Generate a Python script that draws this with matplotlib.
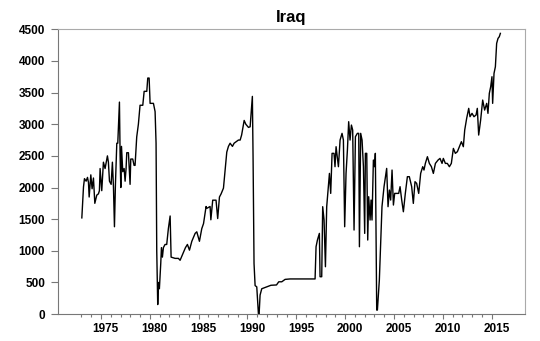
import matplotlib.pyplot as plt
from matplotlib.transforms import ScaledTranslation

# Iraq crude oil production (thousand barrels per day)
years = [
    1973.04, 1973.21, 1973.31, 1973.48, 1973.62, 1973.72, 1973.79, 1973.96,
    1974.09, 1974.23, 1974.37, 1974.57, 1974.74, 1974.84, 1974.91, 1975.08,
    1975.25, 1975.42, 1975.66, 1975.76, 1975.87, 1976.04, 1976.17, 1976.28,
    1976.38, 1976.48, 1976.62, 1976.72, 1976.89, 1976.96, 1977.03, 1977.10,
    1977.23, 1977.37, 1977.47, 1977.57, 1977.64, 1977.81, 1977.98, 1978.05,
    1978.25, 1978.39, 1978.49, 1978.66, 1978.83, 1979.00, 1979.28, 1979.42,
    1979.69, 1979.79, 1979.93, 1980.03, 1980.37, 1980.54, 1980.64, 1980.71,
    1980.81, 1980.88, 1980.98, 1981.12, 1981.19, 1981.29, 1981.39, 1981.56,
    1981.73, 1981.90, 1982.08, 1982.18, 1982.59, 1982.93, 1983.10, 1983.38,
    1983.65, 1983.85, 1984.06, 1984.30, 1984.64, 1984.81, 1985.08, 1985.32,
    1985.50, 1985.76, 1985.83, 1986.17, 1986.25, 1986.44, 1986.78, 1986.95,
    1987.13, 1987.30, 1987.54, 1987.88, 1988.05, 1988.22, 1988.46, 1988.63,
    1989.07, 1989.25, 1989.40, 1989.66, 1989.83, 1990.10, 1990.27, 1990.50,
    1990.57, 1990.67, 1990.78, 1990.95, 1991.12, 1991.19, 1991.29, 1991.46,
    1991.80, 1992.00, 1992.40, 1992.97, 1993.20, 1993.51, 1993.85, 1994.36,
    1996.92, 1997.02, 1997.16, 1997.36, 1997.43, 1997.60, 1997.70, 1997.84,
    1997.98, 1998.11, 1998.39, 1998.52, 1998.66, 1998.86, 1998.96, 1999.07,
    1999.31, 1999.48, 1999.68, 1999.82, 1999.95, 2000.09, 2000.23, 2000.36,
    2000.50, 2000.64, 2000.77, 2000.91, 2001.05, 2001.25, 2001.39, 2001.46,
    2001.59, 2001.73, 2001.87, 2002.00, 2002.07, 2002.21, 2002.31, 2002.41,
    2002.55, 2002.65, 2002.75, 2002.89, 2003.02, 2003.09, 2003.23, 2003.30,
    2003.50, 2003.77, 2003.98, 2004.25, 2004.39, 2004.53, 2004.66, 2004.80,
    2004.94, 2005.07, 2005.48, 2005.62, 2005.79, 2005.96, 2006.16, 2006.37,
    2006.57, 2006.81, 2006.98, 2007.15, 2007.32, 2007.53, 2007.73, 2007.94,
    2008.07, 2008.21, 2008.42, 2008.62, 2008.83, 2009.03, 2009.24, 2009.51,
    2009.71, 2009.92, 2010.05, 2010.26, 2010.46, 2010.67, 2010.87, 2011.08,
    2011.28, 2011.49, 2011.69, 2011.90, 2012.10, 2012.24, 2012.44, 2012.65,
    2012.78, 2012.99, 2013.19, 2013.40, 2013.53, 2013.67, 2013.87, 2014.08,
    2014.28, 2014.49, 2014.62, 2014.76, 2014.90, 2015.03, 2015.10, 2015.24,
    2015.38, 2015.51, 2015.65, 2015.78, 2015.89,
]
production = [
    1520, 2010, 2140, 2100, 2160, 2080, 1850, 2200,
    1980, 2150, 1750, 1880, 1900, 1950, 2300, 1950,
    2400, 2300, 2500, 2400, 2100, 2050, 2400, 2000,
    1380, 2050, 2700, 2700, 3350, 2500, 2000, 2650,
    2250, 2300, 2100, 2300, 2550, 2550, 2050, 2450,
    2450, 2350, 2350, 2800, 3000, 3300, 3300, 3520,
    3520, 3730, 3730, 3330, 3330, 3200, 2700, 1000,
    150, 500, 400, 800, 1050, 900, 1050, 1100,
    1100, 1350, 1550, 900, 880, 880, 850, 950,
    1050, 1100, 1010, 1150, 1275, 1300, 1150, 1350,
    1430, 1700, 1670, 1700, 1490, 1800, 1800, 1510,
    1850, 1900, 1990, 2560, 2650, 2700, 2650, 2700,
    2750, 2750, 2830, 3060, 3000, 2950, 2960, 3440,
    2500, 800, 450, 430, 0, 0, 300, 400,
    420, 430, 455, 460, 510, 510, 548, 555,
    555, 1064, 1170, 1275, 590, 590, 1697, 1486,
    748, 1697, 2223, 1907, 2540, 2540, 2329, 2645,
    2329, 2750, 2856, 2750, 1380, 2223, 2592, 3040,
    2750, 2987, 2908, 1328, 2803, 2856, 2856, 1064,
    2856, 2750, 2329, 1275, 2540, 2540, 1170, 1855,
    1486, 1802, 1486, 2434, 2329, 2540, 63, 63,
    537, 1697, 2013, 2302, 1697, 1960, 1802, 2276,
    1723, 1907, 1907, 2013, 1802, 1617, 1907, 2171,
    2171, 2013, 1749, 2092, 2065, 1907, 2223, 2329,
    2276, 2381, 2487, 2381, 2329, 2223, 2381, 2434,
    2460, 2381, 2460, 2381, 2381, 2329, 2381, 2618,
    2540, 2566, 2645, 2724, 2645, 2908, 3093, 3251,
    3119, 3172, 3119, 3146, 3251, 2829, 3066, 3382,
    3224, 3330, 3172, 3488, 3593, 3751, 3330, 3804,
    3909, 4278, 4357, 4383, 4436,
]

year_ticks = list(range(1973, 2016))
label_years = [1975, 1980, 1985, 1990, 1995, 2000, 2005, 2010, 2015]
value_ticks = list(range(0, 4501, 500))

plt.rcParams['font.family'] = ['Liberation Sans', 'DejaVu Sans']

fig = plt.figure(figsize=(5.4, 3.41), dpi=100)
ax = fig.add_axes([0.1065, 0.079, 0.8655, 0.835])

ax.plot(years, production, color='black', linewidth=1.0)

ax.set_xlim(1970.55, 2018.4)
ax.set_ylim(0, 4500)

ax.set_title('Iraq', fontsize=12, fontweight='bold', pad=5)

ax.set_yticks(value_ticks)
ax.set_yticklabels([str(v) for v in value_ticks], fontsize=8.5, fontweight='bold')
ax.set_xticks(label_years)
ax.set_xticklabels([str(y) for y in label_years], fontsize=8.5, fontweight='bold')
ax.set_xticks([y for y in year_ticks if y not in label_years], minor=True)

ax.tick_params(axis='y', direction='out', length=5, width=0.8, color='#777777', pad=4)
ax.tick_params(axis='x', which='major', direction='out', length=3.5, width=0.8,
               color='#777777', pad=3)
ax.tick_params(axis='x', which='minor', direction='out', length=2, width=0.8,
               color='#777777')

# year labels sit in the middle of each year
shift = ScaledTranslation(0.049, 0, fig.dpi_scale_trans)
for label in ax.get_xticklabels():
    label.set_transform(label.get_transform() + shift)

for side in ['top', 'right']:
    ax.spines[side].set_color('#aaaaaa')
for side in ['left', 'bottom']:
    ax.spines[side].set_color('#777777')
for side in ax.spines:
    ax.spines[side].set_linewidth(0.8)

fig.savefig('out.png', dpi=100)
